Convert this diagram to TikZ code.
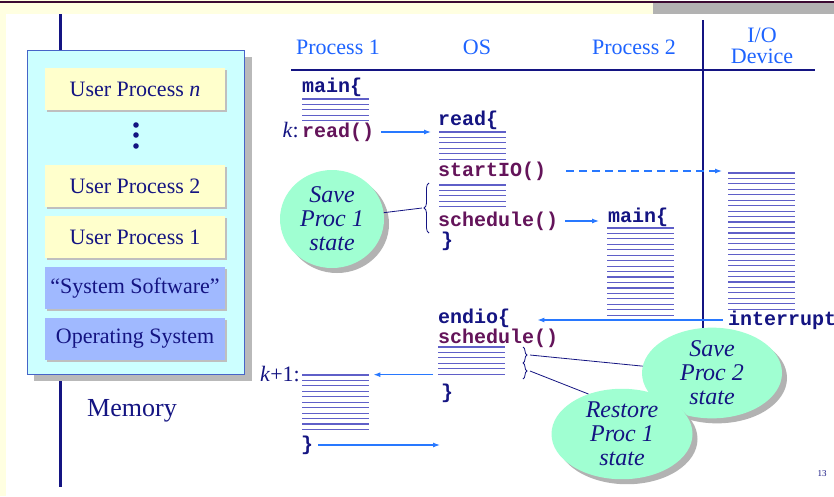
\documentclass[tikz,border=0pt]{standalone}
\usepackage{fontspec}
\setmainfont{Liberation Serif}
\setmonofont{Liberation Mono}
\usetikzlibrary{arrows.meta, positioning, shapes.geometric, shadows, decorations.pathreplacing}

\definecolor{navy}{RGB}{20,20,130}
\definecolor{codeplum}{RGB}{100,20,90}
\definecolor{headblue}{RGB}{30,100,255}
\definecolor{arrowblue}{RGB}{40,120,255}
\definecolor{stackblue}{RGB}{95,95,200}
\definecolor{memcyan}{RGB}{204,255,255}
\definecolor{procyellow}{RGB}{255,255,204}
\definecolor{sysblue}{RGB}{160,185,255}
\definecolor{mint}{RGB}{160,255,210}
\definecolor{slideyellow}{RGB}{255,255,225}
\definecolor{slideplum}{RGB}{60,10,50}

\tikzset{
  code/.style={font=\fontsize{20}{22}\selectfont\ttfamily\bfseries, inner sep=0,
    text height=14pt, text depth=4pt, anchor=base west},
  call/.style={code, text=codeplum},
  block/.style={code, text=navy},
  head/.style={font=\fontsize{22}{22}\selectfont, text=headblue, align=center},
  stackline/.style={draw=stackblue, line width=1.15pt},
  flow/.style={draw=arrowblue, line width=1.2pt, -{Latex[length=7pt, width=5pt]}},
  memrow/.style={minimum width=180pt, minimum height=42pt, inner sep=0,
    font=\fontsize{22}{22}\selectfont, text=navy,
    drop shadow={shadow xshift=2pt, shadow yshift=-2pt, fill=gray!50, opacity=1}},
  bubble/.style={ellipse, fill=mint, text=navy, align=center, inner sep=0,
    font=\fontsize{24}{24}\selectfont\itshape,
    drop shadow={shadow xshift=5pt, shadow yshift=-5pt, fill=gray!60, opacity=1}},
  note/.style={draw=navy, line width=0.8pt},
}

% a stack of code lines: name, left x, top y, number of lines
\newcommand{\codelines}[4]{%
  \node[inner sep=0, minimum width=67pt, minimum height={(#4-1)*5.45pt},
    anchor=north west] (#1) at (#2,#3) {};
  \foreach \i in {1,...,#4}
    \draw[stackline] ([yshift={-(\i-1)*5.45pt}]#1.north west)
      -- ([yshift={-(\i-1)*5.45pt}]#1.north east);
}

\begin{document}
\begin{tikzpicture}[x=1pt, y=-1pt]
  \useasboundingbox (0,0) rectangle (834,496);
  % slide frame
  \fill[white] (0,0) rectangle (834,496);
  \fill[slideyellow] (0,0) rectangle (6,496);
  \fill[slideyellow] (0,0) rectangle (653,14);
  \fill[gray!60] (653,3) rectangle (834,14);
  \fill[slideplum] (0,0.5) rectangle (834,3);

  % Memory
  \draw[navy, line width=3pt] (60,14) -- (60,487);
  \fill[gray!55] (34,57) rectangle (252,381);
  \draw[fill=memcyan, draw={rgb,255:red,70;green,100;blue,200}, line width=0.8pt] (27,50) rectangle (244,374);
  \node[memrow, fill=procyellow] (upn) at (135,89) {User Process \textit{n}};
  \fill[navy] (136,125) circle (2.8) (136,135) circle (2.8) (136,146) circle (2.8);
  \node[memrow, fill=procyellow] (up2) at (135,186) {User Process 2};
  \node[memrow, fill=procyellow] (up1) at (135,237) {User Process 1};
  \node[memrow, fill=sysblue] (syssw) at (135,288) {``System Software''};
  \node[memrow, fill=sysblue] (opsys) at (135,338.5) {Operating System};
  \node[font=\fontsize{26}{26}\selectfont, text=navy] (memlabel) at (132,411) {Memory};

  % Header
  \node[head] (h1) at (338,47) {Process 1};
  \node[head] (h2) at (477,47) {OS};
  \node[head] (h3) at (634,47) {Process 2};
  \node[head, font=\fontsize{22}{21}\selectfont] (h4) at (762,46) {I/O\\Device};
  \draw[navy, line width=2pt] (291,70) -- (815,70);
  \draw[navy, line width=2pt] (703,20) -- (703,340);

  % Process 1
  \node[block] (p1main) at (302,92) {main\{};
  \codelines{p1a}{302}{99}{5}
  \node[call] (p1read) at (302,137) {read()};
  \node[font=\fontsize{22}{22}\selectfont, text=navy, anchor=base east, inner sep=0] (kmark) at (299,137) {\textit{k}:};

  % OS
  \node[block] (osread) at (438,125) {read\{};
  \codelines{osa}{439}{132}{6}
  \node[call] (osio) at (438,176) {startIO()};
  \codelines{osb}{439}{185}{5}
  \node[call] (ossched) at (438,226) {schedule()};
  \node[block] (osend) at (441,246) {\}};

  % Process 2 and device
  \node[block] (p2main) at (608,222) {main\{};
  \codelines{p2a}{607}{228}{17}
  \codelines{iodev}{728}{173}{26}
  \node[block] (intr) at (728,325) {interrupt};

  % OS again
  \node[block] (endio) at (438,323) {endio\{};
  \node[call] (ossched2) at (438,343) {schedule()};
  \codelines{osd}{438}{347}{6}
  \node[block] (osend2) at (441,398) {\}};

  % Process 1 again
  \codelines{p1b}{302}{375}{11}
  \node[font=\fontsize{22}{22}\selectfont, text=navy, anchor=base east, inner sep=0] (k1mark) at (300,381) {\textit{k}+1:};
  \node[block] (p1end) at (301,450) {\}};

  % flow of control
  \draw[flow, shorten >=8pt] ([xshift=7pt]p1read.east) -- (p1read.east -| osa.west);
  \draw[flow, dashed, dash pattern=on 8pt off 5pt, shorten >=6pt] ([xshift=20pt]osio.east) -- (osio.east -| iodev.west);
  \draw[flow, shorten >=9pt] ([xshift=7pt]ossched.east) -- (ossched.east -| p2main.west);
  \draw[flow, shorten >=27pt] ([xshift=-5pt]intr.west) -- (intr.west -| endio.east);
  \draw[flow, shorten >=4pt] ([xshift=-5pt]osd.south west) -- (osd.south west -| p1b.east);
  \draw[flow, shorten >=-2pt] ([xshift=5pt]p1end.east) -- (p1end.east -| osd.west);

  % braces
  \coordinate (b1bot) at (429,233);
  \coordinate (b1top) at (429,183);
  \coordinate (b1tip) at (422,208);
  \draw[note, decorate, decoration={brace, amplitude=5pt}] (b1bot) -- (b1top);
  \coordinate (b2top) at (523,347);
  \coordinate (b2mid) at (523,363);
  \coordinate (b3bot) at (523,379);
  \coordinate (b2tip) at (530,355);
  \coordinate (b3tip) at (530,371);
  \draw[note, decorate, decoration={brace, amplitude=4pt}] (b2top) -- (b2mid);
  \draw[note, decorate, decoration={brace, amplitude=4pt}] (b2mid) -- (b3bot);

  % state bubbles
  \node[bubble, minimum width=104pt, minimum height=98pt] (save1) at (332,219) {Save\\Proc 1\\state};
  \node[bubble, minimum width=140pt, minimum height=86pt] (save2) at (712,373) {Save\\Proc 2\\state};
  \node[bubble, minimum width=141pt, minimum height=82pt] (restore1) at (622,434) {Restore\\Proc 1\\state};
  \draw[note] (b1tip) -- (save1);
  \draw[note] (b2tip) -- (save2);
  \draw[note] (b3tip) -- (restore1.130);

  \node[font=\fontsize{9}{9}\selectfont, text=navy] (pageno) at (822,474) {13};
\end{tikzpicture}
\end{document}
